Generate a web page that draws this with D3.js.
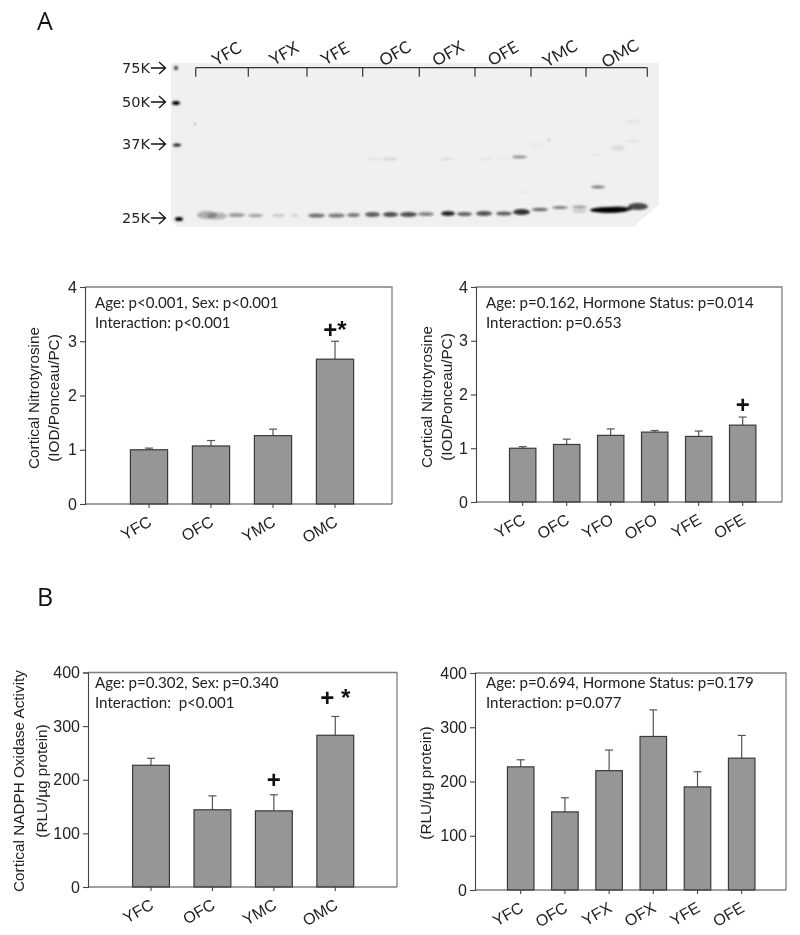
<!DOCTYPE html>
<html><head><meta charset="utf-8">
<style>html,body{margin:0;padding:0;background:#fff}svg{display:block;filter:blur(0.3px)}</style>
<script src="https://cdnjs.cloudflare.com/ajax/libs/d3/7.8.5/d3.min.js"></script>
</head><body><div id="chart"></div>
<script>
// Bar chart data
const catsA1 = ["YFC","OFC","YMC","OMC"];
const catsA2 = ["YFC","OFC","YFO","OFO","YFE","OFE"];
const catsB1 = ["YFC","OFC","YMC","OMC"];
const catsB2 = ["YFC","OFC","YFX","OFX","YFE","OFE"];
const valsA1 = [1.0,1.07,1.26,2.67];
const topsA1 = [1.03,1.17,1.38,3.0];
const valsA2 = [1.0,1.07,1.24,1.30,1.22,1.43];
const topsA2 = [1.03,1.17,1.36,1.33,1.32,1.58];
const valsB1 = [227,144,142,283];
const topsB1 = [240,170,172,318];
const valsB2 = [227,144,220,283,190,243];
const topsB2 = [240,170,258,332,218,285];
const sigA1 = [{i:3,t:"+*",v:3.22}];
const sigA2 = [{i:5,t:"+",v:1.82}];
const sigB1 = [{i:2,t:"+",v:201},{i:3,t:"+ *",v:354}];
const sigB2 = [];
const notesA1 = ["Age: p<0.001, Sex: p<0.001","Interaction: p<0.001"];
const notesA2 = ["Age: p=0.162, Hormone Status: p=0.014","Interaction: p=0.653"];
const notesB1 = ["Age: p=0.302, Sex: p=0.340","Interaction:  p<0.001"];
const notesB2 = ["Age: p=0.694, Hormone Status: p=0.179","Interaction: p=0.077"];
const titleA = ["Cortical Nitrotyrosine","(IOD/Ponceau/PC)"];
const titleB1 = ["Cortical NADPH Oxidase Activity","(RLU/µg protein)"];
const titleB2 = ["(RLU/µg protein)"];
const ticksA = [0,1,2,3,4];
const ticksB = [0,100,200,300,400];
// Blot data, in units measured from the top-left corner of the membrane
const laneNames = ["YFC","YFX","YFE","OFC","OFX","OFE","YMC","OMC"];
const laneLabelPos = [55.7,113,164,224,277,332,389,449];
const laneDividers = [24.7,77.3,136,191.7,248.3,304,360,415,476.3];
const ladderNames = ["75K","50K","37K","25K"];
const ladderPos = [5,39,81,155];
const bandStart = [26,36,57,77,101,120,137,157,176,194,212,229,247,270,286,305,325,342,361,381,401,401,419,434,457,196,212,269,309,327,341,420,359,421,439,454,455,349,3,1,2,4,23,377];
const bandEnd   = [46,56,74,92,114,127,154,174,189,209,227,246,263,284,301,321,341,359,377,397,416,416,457,461,477,211,226,282,322,339,356,434,372,431,454,469,470,359,7,9,10,12,25,379];
const bandMid   = [152,153,152,152.5,152.5,152.5,152.5,152.5,152,151.5,151.5,151.5,151,150.5,151,150.5,150.5,149,146.5,144.5,144,148,147,146,143.5,96,96,96,96,96,94,124,82,92,85,78,59,129,5,40,82,156,61,77];
const bandThick = [8,7,4,3.5,2.5,2.5,4,4,4,5,5,5,4,5,4,5,4,6,3.5,3,3,4,6,5,7,2,2.5,2,2,1.5,3,3,2,2,6,3,5,1.5,4,4,3,4,2,2];
const bandDensity = [.28,.25,.36,.32,.2,.16,.55,.5,.5,.62,.68,.68,.45,.85,.6,.66,.62,.8,.55,.5,.35,.15,1,.82,.7,.07,.12,.1,.06,.06,.42,.5,.05,.06,.08,.05,.04,.06,.8,1,.9,1,.4,.3];
const membraneOutline = [[0,0],[488,0],[488,142],[462,164],[6,164],[0,158]];

const W=800,H=935;
const AXIS="Liberation Sans, Arial, sans-serif", NOTE="Lato, sans-serif";
const svg=d3.select("#chart").append("svg").attr("width",W).attr("height",H).attr("viewBox",[0,0,W,H]);
const defs=svg.append("defs");
defs.append("filter").attr("id","blur").attr("x","-30%").attr("y","-100%").attr("width","160%").attr("height","300%")
  .append("feGaussianBlur").attr("stdDeviation",1.3);
defs.append("filter").attr("id","edge").append("feGaussianBlur").attr("stdDeviation",.6);
svg.append("rect").attr("width",W).attr("height",H).attr("fill","#fff");

// ---------- Blot ----------
const blotX=d3.scaleLinear().domain([0,488]).range([171,659]);
const blotY=d3.scaleLinear().domain([0,164]).range([63,227]);
const blot=svg.append("g");
const outline=d3.line().x(d=>blotX(d[0])).y(d=>blotY(d[1]));
blot.append("path").attr("d",outline(membraneOutline)+"Z").attr("fill","#f0f0f0").attr("filter","url(#edge)");
blot.append("g").attr("filter","url(#blur)").selectAll("ellipse").data(bandStart).join("ellipse")
  .attr("cx",(d,i)=>blotX((d+bandEnd[i])/2)).attr("cy",(d,i)=>blotY(bandMid[i]))
  .attr("rx",(d,i)=>blotX(bandEnd[i])-blotX((d+bandEnd[i])/2)).attr("ry",(d,i)=>(blotY(bandThick[i])-blotY(0))/2)
  .attr("fill","#050505").attr("opacity",(d,i)=>bandDensity[i]);
// lane brackets
const bracketY=blotY(4.7), bracketTick=blotY(13.7);
blot.append("line").attr("x1",blotX(laneDividers[0])).attr("x2",blotX(laneDividers[8])).attr("y1",bracketY).attr("y2",bracketY).attr("stroke","#333").attr("stroke-width",1.2);
blot.selectAll(".dv").data(laneDividers).join("line").attr("class","dv")
  .attr("x1",d=>blotX(d)).attr("x2",d=>blotX(d)).attr("y1",bracketY).attr("y2",bracketTick).attr("stroke","#333").attr("stroke-width",1.2);
blot.selectAll(".lane").data(laneNames).join("text").attr("class","lane")
  .attr("transform",(d,i)=>`translate(${blotX(laneLabelPos[i])},${blotY(-9.5)}) rotate(-30)`)
  .attr("text-anchor","middle").attr("dy",".35em").attr("font-family",NOTE).attr("font-size",16.5).attr("fill","#222").text(d=>d);
// ladder labels & arrows
const lad=blot.selectAll(".lad").data(ladderNames).join("g").attr("class","lad").attr("transform",(d,i)=>`translate(0,${blotY(ladderPos[i])})`);
lad.append("text").attr("x",122).attr("dy",".36em").attr("font-family","DejaVu Sans, sans-serif").attr("font-size",14.5).attr("fill","#222").text(d=>d);
lad.append("path").attr("d","M151,0H165M159,-6L165.5,0L159,6").attr("fill","none").attr("stroke","#111").attr("stroke-width",1.3);

// ---------- Panel letters ----------
svg.selectAll(".letter").data(["A","B"]).join("text").attr("class","letter").attr("x",37).attr("y",(d,i)=>[30,606][i])
  .attr("font-family","Open Sans, sans-serif").attr("font-size",25).attr("fill","#111").text(d=>d);

// ---------- Bar panels ----------
function panel(o){
  const x=d3.scaleBand().domain(o.cats).range(o.band).paddingInner(.4).paddingOuter(.2);
  const y=d3.scaleLinear().domain([0,o.max]).range([o.b,o.t]);
  const g=svg.append("g");
  g.append("path").attr("d",`M${o.l},${o.t}H${o.r}V${o.b}`).attr("fill","none").attr("stroke","#808080").attr("stroke-width",1.3);
  const errs=g.selectAll(".e").data(o.cats).join("g").attr("class","e").attr("stroke","#555").attr("stroke-width",1.2);
  errs.append("line").attr("x1",d=>x(d)+x.bandwidth()/2).attr("x2",d=>x(d)+x.bandwidth()/2)
    .attr("y1",(d,i)=>y(o.vals[i])).attr("y2",(d,i)=>y(o.tops[i]));
  errs.append("line").attr("x1",d=>x(d)+x.bandwidth()/2-4).attr("x2",d=>x(d)+x.bandwidth()/2+4)
    .attr("y1",(d,i)=>y(o.tops[i])).attr("y2",(d,i)=>y(o.tops[i]));
  g.selectAll(".b").data(o.cats).join("rect").attr("class","b").attr("x",d=>x(d)).attr("width",x.bandwidth())
    .attr("y",(d,i)=>y(o.vals[i])).attr("height",(d,i)=>o.b-y(o.vals[i]))
    .attr("fill","#969696").attr("stroke","#3a3a3a").attr("stroke-width",1.2);
  // axes
  const ya=g.append("g").attr("transform",`translate(${o.l},0)`).call(d3.axisLeft(y).tickValues(o.ticks).tickSize(5).tickPadding(3).tickFormat(d3.format("d")));
  const xa=g.append("g").attr("transform",`translate(0,${o.b})`).call(d3.axisBottom(x).tickSize(4).tickFormat(""));
  g.append("line").attr("x1",o.l).attr("x2",o.r).attr("y1",o.b).attr("y2",o.b).attr("stroke","#444").attr("stroke-width",1.2);
  xa.select(".domain").remove();
  g.selectAll(".domain,.tick line").attr("stroke","#444").attr("stroke-width",1.1);
  ya.selectAll("text").attr("font-family",AXIS).attr("font-size",16).attr("fill","#222");
  g.selectAll(".xl").data(o.cats).join("text").attr("class","xl")
    .attr("transform",d=>`translate(${x(d)+x.bandwidth()/2+1},${o.b+16}) rotate(-30)`)
    .attr("text-anchor","end").attr("dy",".35em").attr("font-family",AXIS).attr("font-size",16).attr("fill","#222").text(d=>d);
  // y titles
  g.selectAll(".yt").data(o.title).join("text").attr("class","yt")
    .attr("transform",(d,i)=>`translate(${o.tx[i]},${o.ty}) rotate(-90)`)
    .attr("text-anchor","middle").attr("dy",".35em").attr("font-family",AXIS).attr("font-size",o.tf).attr("fill","#222").text(d=>d);
  // notes
  g.selectAll(".n").data(o.notes).join("text").attr("class","n").attr("x",o.nx).attr("y",(d,i)=>o.ny+i*20.3)
    .style("white-space","pre").attr("font-family",NOTE).attr("font-size",15.1).attr("fill","#222").text(d=>d);
  // significance
  g.selectAll(".s").data(o.sig).join("text").attr("class","s")
    .attr("x",d=>x(o.cats[d.i])+x.bandwidth()/2).attr("y",d=>y(d.v)).attr("dy",".35em")
    .style("white-space","pre").attr("text-anchor","middle").attr("font-family",AXIS).attr("font-weight","bold").attr("font-size",24).attr("fill","#111").text(d=>d.t);
}
panel({cats:catsA1,vals:valsA1,tops:topsA1,sig:sigA1,notes:notesA1,title:titleA,ticks:ticksA,max:4,
  l:85,r:392,t:287,b:504,band:[118,366],tx:[34,54],ty:398,tf:15.3,nx:95,ny:308});
panel({cats:catsA2,vals:valsA2,tops:topsA2,sig:sigA2,notes:notesA2,title:titleA,ticks:ticksA,max:4,
  l:476,r:782,t:287,b:502,band:[500.7,764.7],tx:[427,447],ty:397,tf:15.3,nx:486,ny:308});
panel({cats:catsB1,vals:valsB1,tops:topsB1,sig:sigB1,notes:notesB1,title:titleB1,ticks:ticksB,max:400,
  l:88,r:397,t:672.5,b:887,band:[120.3,366],tx:[19,41.5],ty:781,tf:15.3,nx:95,ny:688});
panel({cats:catsB2,vals:valsB2,tops:topsB2,sig:sigB2,notes:notesB2,title:titleB2,ticks:ticksB,max:400,
  l:475,r:786,t:673,b:890,band:[498.6,763.8],tx:[425.7],ty:783,tf:15.3,nx:486,ny:688});
</script></body></html>
